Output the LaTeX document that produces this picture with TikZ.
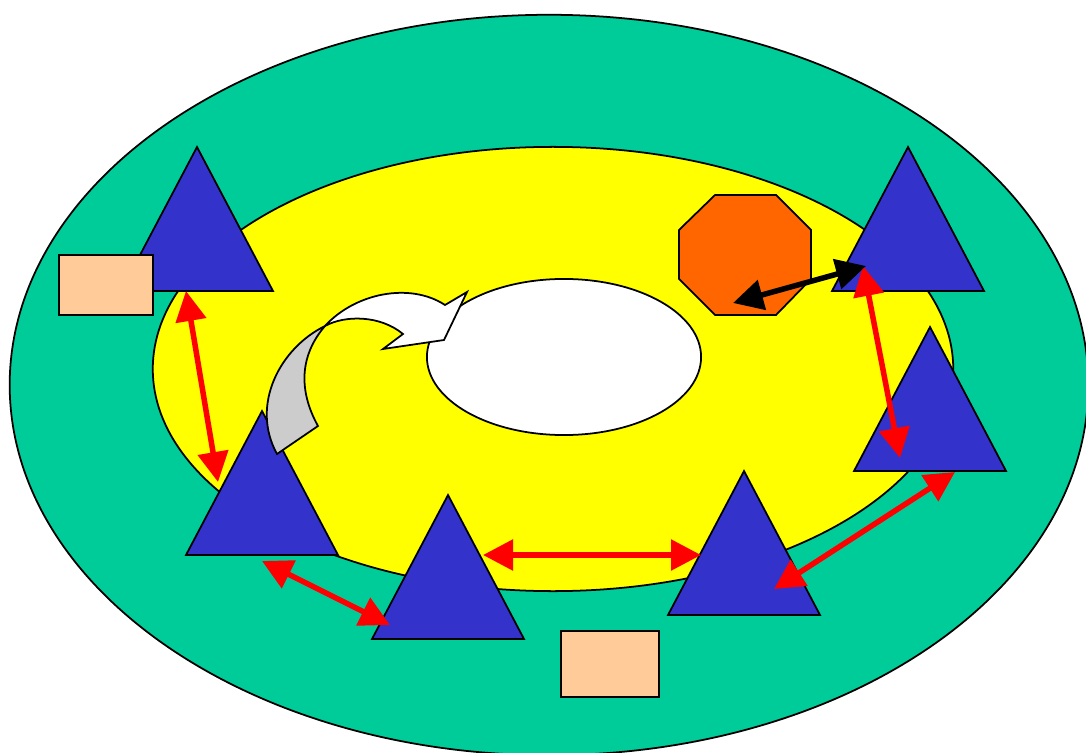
\documentclass[tikz,border=0pt]{standalone}
\usepackage{xcolor}
\definecolor{ringgreen}{RGB}{0, 204, 153}
\definecolor{ringyellow}{RGB}{255, 255, 0}
\definecolor{tribblue}{RGB}{51, 51, 204}
\definecolor{boxpeach}{RGB}{255, 204, 153}
\definecolor{octorange}{RGB}{255, 102, 0}
\definecolor{bendgray}{RGB}{204, 204, 204}
\usetikzlibrary{arrows.meta}

\begin{document}
\begin{tikzpicture}[x=0.01cm, y=-0.01cm,
    outline/.style={draw=black, line width=0.5pt},
    tri/.style={outline, fill=tribblue},
    box/.style={outline, fill=boxpeach, inner sep=0pt, outer sep=0pt},
    link/.style={red, line width=0.055cm, {Triangle[length=0.30cm, width=0.30cm]}-{Triangle[length=0.30cm, width=0.30cm]}},
    blink/.style={link, black}]

\useasboundingbox (0,0) rectangle (1086,752);
\clip (0,0) rectangle (1086,752);

% === Anillos ===
\filldraw[outline, fill=ringgreen] (549,385) ellipse [x radius=5.39cm, y radius=3.70cm];
\filldraw[outline, fill=ringyellow] (553,369) ellipse [x radius=4.00cm, y radius=2.22cm];
\filldraw[outline, fill=white] (564,357) ellipse [x radius=1.37cm, y radius=0.78cm];

% === Triangulos ===
\foreach \ax/\ay in {197/147, 908/147, 930/327, 262/411, 448/495, 744/471}
    \filldraw[tri] (\ax,\ay) -- ++(76,144) -- ++(-152,0) -- cycle;

% === Cajas ===
\node[box, minimum width=0.94cm, minimum height=0.60cm] (boxL) at (106,285) {};
\node[box, minimum width=0.98cm, minimum height=0.66cm] (boxB) at (610,664) {};

% === Octagono ===
\filldraw[outline, fill=octorange] (715,195) -- (776,195) -- (811,230) -- (811,279)
    -- (776,315) -- (715,315) -- (679,279) -- (679,230) -- cycle;

% === Flecha curva ===
\filldraw[outline, fill=bendgray] (325,326) .. controls (280,348) and (250,405) .. (277,454)
    -- (318,426) .. controls (298,390) and (300,355) .. (325,326) -- cycle;
\filldraw[outline, fill=white] (325,326) .. controls (355,293) and (410,282) .. (445,305)
    -- (467,292) -- (444,340) -- (383,349) -- (403,334)
    .. controls (380,315) and (345,315) .. (325,326) -- cycle;

% === Puntos de enlace ===
\coordinate (a1) at (186,291);
\coordinate (a2) at (218,482);
\coordinate (b1) at (863,266);
\coordinate (b2) at (900,458);
\coordinate (c1) at (262,561);
\coordinate (c2) at (390,625);
\coordinate (d1) at (483,555);
\coordinate (d2) at (701,555);
\coordinate (e1) at (955,472);
\coordinate (e2) at (774,589);
\coordinate (o1) at (733,303);
\coordinate (o2) at (866,266);

% === Enlaces ===
\draw[link] (a1) -- (a2);
\draw[link] (b1) -- (b2);
\draw[link] (c1) -- (c2);
\draw[link] (d1) -- (d2);
\draw[link] (e1) -- (e2);
\draw[blink] (o1) -- (o2);

\end{tikzpicture}
\end{document}
